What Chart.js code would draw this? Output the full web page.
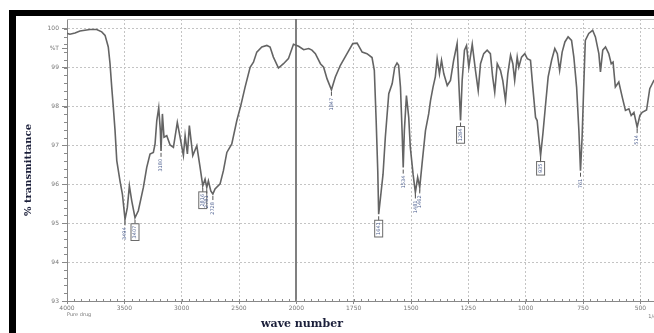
<!DOCTYPE html>
<html lang="en">
<head>
  <meta charset="UTF-8" />
  <title>IR spectrum - pure drug</title>
  <script src="https://cdn.jsdelivr.net/npm/chart.js"></script>
  <style>
    body {
      margin: 0;
      background: #fff;
    }

    #wrap {
      position: relative;
      width: 654px;
      height: 333px;
      overflow: hidden;
    }

    #chart {
      position: absolute;
      left: 0;
      top: 0;
    }

    .bar {
      position: absolute;
      background: #000;
    }

    #yTitle {
      position: absolute;
      left: 27px;
      top: 170px;
      transform: translate(-50%, -50%) rotate(-90deg);
      white-space: nowrap;
      font: bold 10px "DejaVu Serif", serif;
      color: #1b1f3a;
    }

    #xTitle {
      position: absolute;
      left: 302px;
      top: 323px;
      transform: translate(-50%, -50%);
      white-space: nowrap;
      font: bold 11px "DejaVu Serif", serif;
      color: #1b1f3a;
    }
  </style>
</head>
<body>
  <div id="wrap">
    <canvas id="chart" width="700" height="333"></canvas>
    <div class="bar" style="left:9px; top:10px; width:645px; height:6px;"></div>
    <div class="bar" style="left:9px; top:10px; width:7px; height:323px;"></div>
    <div id="yTitle">% transmittance</div>
    <div id="xTitle">wave number</div>
  </div>

  <script>
    // spectrum (cm-1, %T)
    const wavenumbers = [
      4000, 3975, 3930, 3887, 3800, 3741, 3697, 3668, 3640, 3625, 3610, 3596, 3581, 3566, 3538, 3517,
      3494, 3474, 3456, 3435, 3407, 3378, 3334, 3305, 3276, 3247, 3232, 3217, 3200, 3186, 3180, 3168,
      3154, 3130, 3101, 3072, 3038, 3008, 2985, 2970, 2950, 2933, 2903, 2868, 2839, 2816, 2796, 2781,
      2767, 2746, 2728, 2709, 2665, 2636, 2606, 2563, 2519, 2484, 2447, 2403, 2374, 2345, 2301, 2257,
      2229, 2200, 2156, 2112, 2069, 2025, 1990, 1968, 1946, 1932, 1917, 1895, 1881, 1866, 1847, 1830,
      1808, 1779, 1754, 1735, 1713, 1692, 1670, 1660, 1652, 1645, 1641, 1633, 1622, 1612, 1597, 1582,
      1571, 1561, 1554, 1546, 1539, 1534, 1529, 1520, 1510, 1503, 1491, 1481, 1471, 1462, 1452, 1437,
      1423, 1415, 1404, 1394, 1386, 1376, 1367, 1357, 1342, 1328, 1314, 1299, 1292, 1284, 1277, 1267,
      1258, 1248, 1233, 1219, 1207, 1197, 1183, 1168, 1154, 1144, 1135, 1124, 1110, 1100, 1088, 1078,
      1066, 1056, 1048, 1037, 1030, 1018, 1004, 993, 979, 969, 957, 950, 943, 935, 925, 913,
      902, 887, 873, 862, 852, 841, 829, 815, 800, 790, 778, 768, 761, 754, 747, 740,
      725, 708, 696, 681, 674, 664, 652, 638, 627, 619, 609, 594, 579, 565, 550, 540,
      528, 514, 502, 492, 473, 459, 441, 420
    ];
    const transmittance = [
      99.88, 99.86, 99.89, 99.94, 99.98, 99.98, 99.92, 99.83, 99.53, 99.11, 98.50, 97.98, 97.38, 96.61, 96.09, 95.75,
      95.10, 95.40, 95.96, 95.57, 95.14, 95.32, 95.92, 96.43, 96.78, 96.82, 97.04, 97.64, 97.97, 97.38, 96.86, 97.81,
      97.21, 97.25, 97.01, 96.95, 97.59, 97.12, 96.74, 97.25, 96.78, 97.51, 96.74, 96.99, 96.43, 95.96, 96.13, 95.92,
      96.09, 95.83, 95.75, 95.88, 96.01, 96.35, 96.82, 97.04, 97.64, 98.03, 98.50, 99.01, 99.14, 99.40, 99.53, 99.57,
      99.53, 99.27, 98.99, 99.10, 99.23, 99.60, 99.55, 99.46, 99.49, 99.45, 99.36, 99.10, 99.01, 98.71, 98.43, 98.76,
      99.06, 99.36, 99.62, 99.63, 99.40, 99.36, 99.26, 98.93, 97.64, 96.35, 95.23, 95.66, 96.26, 97.21, 98.33, 98.59,
      99.01, 99.12, 99.06, 98.50, 97.38, 96.43, 97.38, 98.28, 97.72, 96.95, 96.26, 95.79, 96.18, 95.92, 96.52, 97.38,
      97.81, 98.15, 98.50, 98.76, 99.23, 98.84, 99.19, 98.84, 98.54, 98.67, 99.19, 99.62, 98.67, 97.64, 98.67, 99.45,
      99.57, 99.01, 99.60, 98.93, 98.41, 99.10, 99.36, 99.45, 99.36, 98.76, 98.37, 99.10, 98.93, 98.67, 98.15, 98.84,
      99.32, 99.10, 98.67, 99.27, 99.01, 99.27, 99.36, 99.23, 99.19, 98.50, 97.72, 97.64, 97.21, 96.74, 97.30, 98.07,
      98.76, 99.19, 99.49, 99.36, 98.93, 99.40, 99.66, 99.79, 99.70, 99.27, 98.50, 97.38, 96.35, 97.21, 98.50, 99.70,
      99.88, 99.96, 99.79, 99.36, 98.89, 99.45, 99.53, 99.36, 99.10, 99.14, 98.50, 98.63, 98.24, 97.90, 97.94, 97.77,
      97.85, 97.47, 97.77, 97.85, 97.91, 98.46, 98.67, 98.70
    ];

    const xTickValues = [4000, 3500, 3000, 2500, 2000, 1750, 1500, 1250, 1000, 750, 500];
    const yTickValues = [93, 94, 95, 96, 97, 98, 99, 99.5, 100];
    const yTickLabels = ['93', '94', '95', '96', '97', '98', '99', '%T', '100'];

    // labelled peaks, and the ones drawn with a box round the label
    const peakWn = [3494, 3407, 3180, 2816, 2781, 2728, 1847, 1641, 1534, 1481, 1462, 1284, 935, 761, 514];
    const peakBoxed = [3407, 2816, 1641, 1284, 935];

    // the instrument halves the scale below 2000 cm-1
    function toU(wn) {
      return wn >= 2000 ? (4000 - wn) / 500 : 4 + (2000 - wn) / 250;
    }
    function fromU(u) {
      return u <= 4 ? 4000 - 500 * u : 2000 - 250 * (u - 4);
    }

    const points = wavenumbers.map((wn, i) => ({ x: toU(wn), y: transmittance[i] }));

    const decor = {
      id: 'decor',
      beforeDatasetsDraw(chart) {
        const { ctx, chartArea: a, scales: { x, y } } = chart;
        ctx.save();
        // top frame line
        ctx.strokeStyle = '#bdbdbd';
        ctx.lineWidth = 1;
        ctx.beginPath();
        ctx.moveTo(a.left, a.top + 0.5);
        ctx.lineTo(a.right + 40, a.top + 0.5);
        ctx.stroke();
        // solid line at 2000
        const x2000 = Math.round(x.getPixelForValue(toU(2000)));
        ctx.strokeStyle = '#808080';
        ctx.lineWidth = 2;
        ctx.beginPath();
        ctx.moveTo(x2000, a.top);
        ctx.lineTo(x2000, a.bottom);
        ctx.stroke();
        // minor ticks
        ctx.strokeStyle = '#8a8a8a';
        ctx.lineWidth = 1;
        ctx.beginPath();
        for (let v = 93; v < 100.2; v += 0.2) {
          const py = Math.round(y.getPixelForValue(v)) + 0.5;
          ctx.moveTo(a.left - 3, py);
          ctx.lineTo(a.left, py);
        }
        for (let u = 0; u < 10.4; u += 0.125) {
          const px = Math.round(x.getPixelForValue(u)) + 0.5;
          ctx.moveTo(px, a.bottom);
          ctx.lineTo(px, a.bottom - 2);
        }
        ctx.stroke();
        ctx.restore();
      },
      afterDatasetsDraw(chart) {
        const { ctx, chartArea: a, scales: { x, y } } = chart;
        ctx.save();
        ctx.font = '5px "DejaVu Sans"';
        ctx.textBaseline = 'middle';
        peakWn.forEach(wn => {
          const i = wavenumbers.indexOf(wn);
          const px = x.getPixelForValue(toU(wn));
          const py = y.getPixelForValue(transmittance[i]);
          const txt = String(wn);
          const w = ctx.measureText(txt).width;
          ctx.strokeStyle = '#555';
          ctx.lineWidth = 1;
          ctx.beginPath();
          ctx.moveTo(px, py + 2);
          ctx.lineTo(px, py + 6);
          ctx.stroke();
          const top = py + 8;
          if (peakBoxed.includes(wn)) {
            ctx.strokeStyle = '#6a6a6a';
            ctx.strokeRect(px - 4, top - 2, 8, w + 4);
          }
          ctx.save();
          ctx.translate(px, top + w);
          ctx.rotate(-Math.PI / 2);
          ctx.fillStyle = '#4d5f8f';
          ctx.fillText(txt, 0, 0);
          ctx.restore();
        });
        // small captions
        ctx.fillStyle = '#777';
        ctx.font = '5px "DejaVu Sans"';
        ctx.textBaseline = 'top';
        ctx.fillText('Pure drug', a.left, a.bottom + 11);
        ctx.fillText('1/cm', x.getPixelForValue(toU(500)) + 8, a.bottom + 13);
        ctx.restore();
      }
    };

    new Chart(document.getElementById('chart'), {
      type: 'line',
      data: {
        datasets: [{
          data: points,
          borderColor: '#646464',
          borderWidth: 1.6,
          pointRadius: 0,
          tension: 0,
          fill: false
        }]
      },
      options: {
        responsive: false,
        animation: false,
        devicePixelRatio: 1,
        layout: { padding: { left: 0, top: 19, right: 39, bottom: 0 } },
        plugins: { legend: { display: false }, tooltip: { enabled: false } },
        scales: {
          x: {
            type: 'linear',
            min: 0,
            max: toU(410),
            afterFit: s => { s.height = 32; },
            afterBuildTicks: s => { s.ticks = xTickValues.map(v => ({ value: toU(v) })); },
            ticks: {
              callback: v => String(Math.round(fromU(v))),
              font: { family: 'DejaVu Sans', size: 6 },
              color: '#777',
              padding: 1,
              maxRotation: 0,
              autoSkip: false
            },
            grid: { color: '#c4c4c4', tickLength: 3, tickColor: '#888' },
            border: { color: '#888', dash: [2, 2] }
          },
          y: {
            min: 93,
            max: 100.25,
            afterFit: s => { s.width = 67; },
            afterBuildTicks: s => { s.ticks = yTickValues.map(v => ({ value: v })); },
            ticks: {
              callback: (v, i) => yTickLabels[i],
              font: { family: 'DejaVu Sans', size: 6 },
              color: '#777',
              padding: 3
            },
            grid: {
              color: c => (c.tick && c.tick.value === 99.5 ? 'rgba(0,0,0,0)' : '#c4c4c4'),
              tickLength: 5,
              tickColor: '#888'
            },
            border: { color: '#888', dash: [2, 2] }
          }
        }
      },
      plugins: [decor]
    });
  </script>
</body>
</html>
